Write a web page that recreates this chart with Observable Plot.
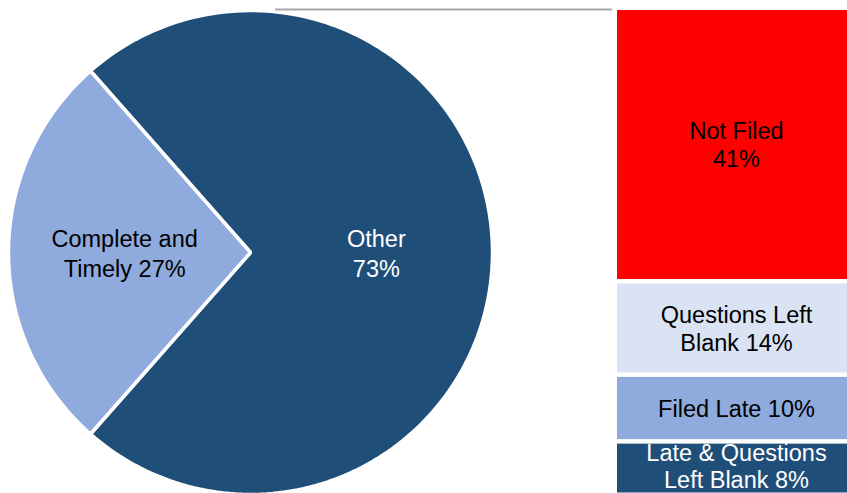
<!DOCTYPE html>
<html>
<head>
<meta charset="utf-8">
<script src="https://cdn.jsdelivr.net/npm/d3@7"></script>
<script src="https://cdn.jsdelivr.net/npm/@observablehq/plot@0.6"></script>
<style>
  html, body { margin: 0; padding: 0; background: #fff; }
  #wrap { position: relative; width: 847px; height: 493px; overflow: hidden; font-family: "Liberation Sans", Arial, sans-serif; }
  #pie, #bar { position: absolute; top: 0; }
  #pie { left: 0; width: 847px; height: 493px; }
  #bar { left: 617px; width: 238px; height: 497px; }
  #wrap svg { max-width: none !important; }
</style>
</head>
<body>
<div id="wrap"><div id="pie"></div><div id="bar"></div></div>
<script>
// ---- data ----
const pieCategories = ["Other", "Complete and Timely"];
const pieValues = [73, 27];
const pieLabels = ["Other\n73%", "Complete and\nTimely 27%"];

const barCategories = ["Not Filed", "Questions Left Blank", "Filed Late", "Late & Questions Left Blank"];
const barValues = [41, 14, 10, 8];
const barLabels = ["Not Filed\n41%", "Questions Left\nBlank 14%", "Filed Late 10%", "Late & Questions\nLeft Blank 8%"];

// ---- styles ----
const pieColors = {"Other": "#1f4e79", "Complete and Timely": "#8faadc"};
const pieTextColors = {"Other": "#ffffff", "Complete and Timely": "#000000"};
const barColors = {"Not Filed": "#ff0000", "Questions Left Blank": "#dae3f3", "Filed Late": "#8faadc", "Late & Questions Left Blank": "#1f4e79"};
const barTextColors = {"Not Filed": "#000000", "Questions Left Blank": "#000000", "Filed Late": "#000000", "Late & Questions Left Blank": "#ffffff"};
const FONT = "\"Liberation Sans\", Arial, sans-serif";

// ---- pie geometry (unit circle, y up) ----
const total = d3.sum(pieValues);
const start = Math.PI / 2 - Math.PI * pieValues[0] / total; // "Other" centred at 3 o'clock
const arcs = d3.pie().sort(null).startAngle(start).endAngle(start + 2 * Math.PI)(pieValues);
const polyPts = [];
const labelPts = [];
arcs.forEach((a, i) => {
  const cat = pieCategories[i];
  polyPts.push({cat, x: 0, y: 0});
  const n = 180;
  for (let k = 0; k <= n; k++) {
    const t = a.startAngle + (a.endAngle - a.startAngle) * k / n;
    polyPts.push({cat, x: Math.sin(t), y: Math.cos(t)});
  }
  const mid = (a.startAngle + a.endAngle) / 2;
  labelPts.push({cat, label: pieLabels[i], x: 0.52 * Math.sin(mid), y: 0.52 * Math.cos(mid)});
});

const R = 242, CX = 250, CY = 252, W = 847, H = 493;
const pie = Plot.plot({
  width: W, height: H,
  margin: 0,
  x: {domain: [-CX / R, (W - CX) / R], axis: null},
  y: {domain: [-(H - CY) / R, CY / R], axis: null},
  style: {fontFamily: FONT, background: "transparent"},
  marks: [
    ...pieCategories.map(c => Plot.line(polyPts.filter(d => d.cat === c), {
      x: "x", y: "y", fill: pieColors[c], stroke: "white", strokeWidth: 3.5,
      strokeLinejoin: "miter", curve: "linear-closed"
    })),
    Plot.ruleY([1.004], {x1: 0.104, x2: 1.496, stroke: "#a6a6a6", strokeWidth: 2}),
    Plot.text(labelPts, {
      x: "x", y: "y", text: "label", fill: d => pieTextColors[d.cat],
      fontSize: 23.5, lineHeight: 1.25, textAnchor: "middle"
    })
  ]
});
document.getElementById("pie").appendChild(pie);

const barData = barCategories.map((c, i) => ({cat: c, value: barValues[i], label: barLabels[i]}));
const lastCat = barCategories[barCategories.length - 1];
const bar = Plot.plot({
  width: 238, height: 497,
  marginTop: 10, marginBottom: 0, marginLeft: 0, marginRight: 0,
  y: {domain: [0, d3.sum(barValues)], reverse: true, axis: null},
  style: {fontFamily: FONT, background: "transparent"},
  marks: [
    Plot.barY(barData, {y: "value", fill: d => barColors[d.cat], insetBottom: 4.5}),
    Plot.text(barData.filter(d => d.cat !== lastCat), Plot.stackY({
      y: "value", text: "label", fill: d => barTextColors[d.cat],
      fontSize: 23.5, lineHeight: 1.2, dy: -3
    })),
    Plot.text(barData, Plot.stackY({
      y: "value", text: d => d.cat === lastCat ? d.label : "", fill: d => barTextColors[d.cat],
      fontSize: 23.5, lineHeight: 1.15, dy: -5
    }))
  ]
});
document.getElementById("bar").appendChild(bar);
</script>
</body>
</html>
